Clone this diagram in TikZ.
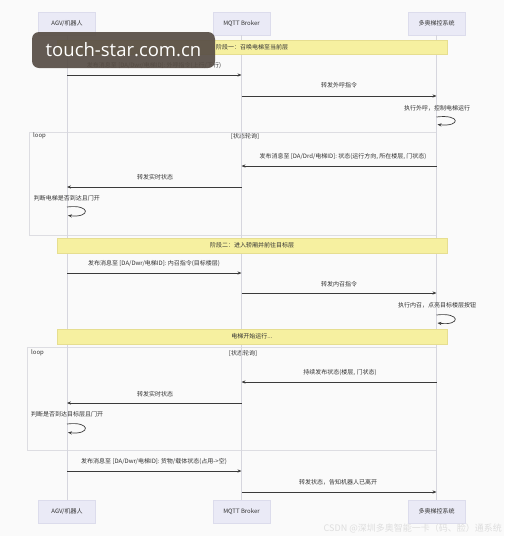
\documentclass[tikz,border=0pt]{standalone}
\usepackage{fontspec}
\setmainfont{Noto Sans CJK SC}
\newfontfamily\wmfont{Open Sans}
\usetikzlibrary{arrows.meta}
\definecolor{bg}{HTML}{FAFAFA}
\definecolor{actorfill}{HTML}{EAEAF6}
\definecolor{actorline}{HTML}{DCDCEC}
\definecolor{lifegray}{HTML}{D6D6DE}
\definecolor{notefill}{HTML}{F6F0A0}
\definecolor{noteline}{HTML}{E6DE90}
\definecolor{msgcol}{HTML}{3A3A3A}
\definecolor{txtcol}{HTML}{333333}
\definecolor{framecol}{HTML}{DDDDE2}
\definecolor{wmbox}{HTML}{574D45}
\tikzset{
  actorbox/.style={draw=actorline, fill=actorfill, minimum width=57pt, minimum height=23pt, inner sep=0pt, font=\fontsize{6}{7}\selectfont, text=txtcol},
  life/.style={draw=lifegray, line width=0.6pt},
  notebox/.style={draw=noteline, fill=notefill, minimum width=390pt, minimum height=14.5pt, inner sep=0pt, font=\fontsize{6}{7}\selectfont, text=txtcol},
  msg/.style={draw=msgcol, line width=0.7pt, -{Stealth[length=4pt,width=3.2pt]}},
  lbl/.style={font=\fontsize{6}{7}\selectfont, text=txtcol, inner sep=0pt},
  framebox/.style={draw=framecol, line width=0.6pt},
}
\begin{document}
\begin{tikzpicture}[x=1pt,y=-1pt]
\path[fill=bg] (0,0) rectangle (504,536);
\useasboundingbox (0,0) rectangle (504,536);

% loop frames (behind)
\draw[framebox] (29,132) rectangle (436.5,235);
\draw[framebox] (27,347) rectangle (436.5,450);
\node[lbl, anchor=west] (loopA) at (33,136) {loop};
\node[lbl] (condA) at (245,136) {[状态轮询]};
\node[lbl, anchor=west] (loopB) at (31,353) {loop};
\node[lbl] (condB) at (243,353) {[状态轮询]};

% actors
\node[actorbox] (agvT) at (67,23.5) {AGV/机器人};
\node[actorbox] (mqT) at (241.5,23.5) {MQTT Broker};
\node[actorbox] (elT) at (436.5,23.5) {多奥梯控系统};
\node[actorbox] (agvB) at (67,511.5) {AGV/机器人};
\node[actorbox] (mqB) at (241.5,511.5) {MQTT Broker};
\node[actorbox] (elB) at (436.5,511.5) {多奥梯控系统};
\draw[life] (agvT) -- (agvB);
\draw[life] (mqT) -- (mqB);
\draw[life] (elT) -- (elB);

% phase 1
\node[notebox] (note1) at (252,47) {阶段一：召唤电梯至当前层};
\node[lbl] (l1) at (154,66) {发布消息至 [DA/Dwr/电梯ID]: 外呼指令(上行/下行)};
\coordinate (m1a) at (67,75); \coordinate (m1b) at (241.5,75);
\draw[msg] (m1a) -- (m1b);
\node[lbl] (l2) at (339,85) {转发外呼指令};
\coordinate (m2a) at (241.5,96); \coordinate (m2b) at (436.5,96);
\draw[msg] (m2a) -- (m2b);
\node[lbl] (l3) at (437,108) {执行外呼，控制电梯运行};
\coordinate (s1a) at (436.5,117); \coordinate (s1b) at (437.5,124.5);
\draw[msg] (s1a) .. controls (461,114) and (461,127) .. (s1b);

% loop 1
\node[lbl] (l4) at (343,157) {发布消息至 [DA/Drd/电梯ID]: 状态(运行方向, 所在楼层, 门状态)};
\coordinate (m4a) at (436.5,166); \coordinate (m4b) at (241.5,166);
\draw[msg] (m4a) -- (m4b);
\node[lbl] (l5) at (155,177) {转发实时状态};
\coordinate (m5a) at (241.5,187); \coordinate (m5b) at (67,187);
\draw[msg] (m5a) -- (m5b);
\node[lbl] (l6) at (67,198) {判断电梯是否到达且门开};
\coordinate (s2a) at (67,207); \coordinate (s2b) at (68,215.5);
\draw[msg] (s2a) .. controls (91,204) and (91,218) .. (s2b);

% phase 2
\node[notebox] (note2) at (252,245.5) {阶段二：进入轿厢并前往目标层};
\node[lbl] (l7) at (154,264) {发布消息至 [DA/Dwr/电梯ID]: 内召指令(目标楼层)};
\coordinate (m7a) at (67,273); \coordinate (m7b) at (241.5,273);
\draw[msg] (m7a) -- (m7b);
\node[lbl] (l8) at (339,284) {转发内召指令};
\coordinate (m8a) at (241.5,293); \coordinate (m8b) at (436.5,293);
\draw[msg] (m8a) -- (m8b);
\node[lbl] (l9) at (437,305) {执行内召，点亮目标楼层按钮};
\coordinate (s3a) at (436.5,315); \coordinate (s3b) at (437.5,323);
\draw[msg] (s3a) .. controls (461,312) and (461,326) .. (s3b);
\node[notebox] (note3) at (252,336.5) {电梯开始运行...};

% loop 2
\node[lbl] (l10) at (340,373) {持续发布状态(楼层, 门状态)};
\coordinate (m10a) at (436.5,382); \coordinate (m10b) at (241.5,382);
\draw[msg] (m10a) -- (m10b);
\node[lbl] (l11) at (155,394) {转发实时状态};
\coordinate (m11a) at (241.5,403); \coordinate (m11b) at (67,403);
\draw[msg] (m11a) -- (m11b);
\node[lbl] (l12) at (67,414) {判断是否到达目标层且门开};
\coordinate (s4a) at (67,424); \coordinate (s4b) at (68,432.5);
\draw[msg] (s4a) .. controls (91,421) and (91,435) .. (s4b);

% final
\node[lbl] (l13) at (154,462) {发布消息至 [DA/Dwr/电梯ID]: 货物/载体状态(占用->空)};
\coordinate (m13a) at (67,471); \coordinate (m13b) at (241.5,471);
\draw[msg] (m13a) -- (m13b);
\node[lbl] (l14) at (338,482) {转发状态，告知机器人已离开};
\coordinate (m14a) at (241.5,492); \coordinate (m14b) at (436.5,492);
\draw[msg] (m14a) -- (m14b);

% watermarks
\node[fill=wmbox, fill opacity=0.92, text opacity=1, rounded corners=7pt, minimum width=183pt, minimum height=36pt, inner sep=0pt, text=white, font=\wmfont\fontsize{18.5}{20}\selectfont] (wm) at (123.5,50) {touch-star.com.cn};
\node[anchor=east, inner sep=0pt, text=black!13, font=\fontsize{9}{11}\selectfont] (csdn) at (502,528) {CSDN @深圳多奥智能一卡（码、脸）通系统};
\end{tikzpicture}
\end{document}
